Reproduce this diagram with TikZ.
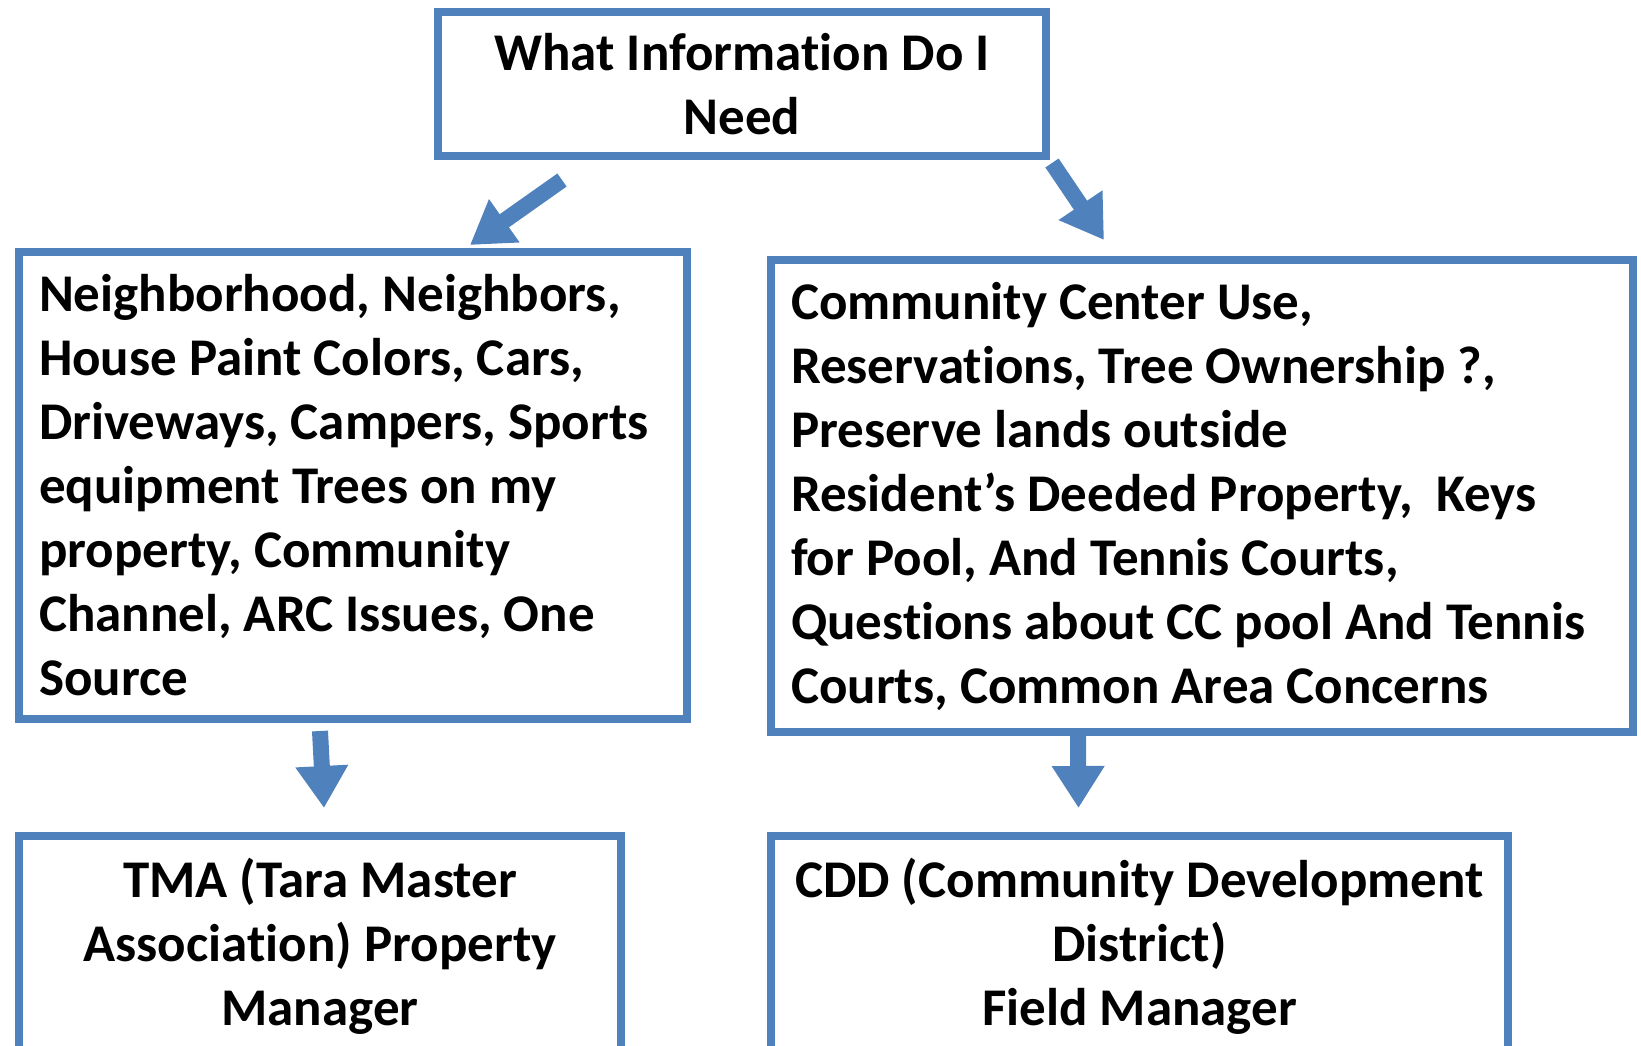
\documentclass[tikz,border=0pt]{standalone}
\usepackage{fontspec}
\setmainfont{Carlito}[RawFeature={-liga;-clig;-calt;-dlig;-rlig}]
\usetikzlibrary{arrows.meta}
\definecolor{boxblue}{RGB}{79,129,189}
\newcommand{\tisplit}{t\kern0pt i}

\begin{document}
\begin{tikzpicture}[x=1pt, y=-1pt, every node/.style={font=\fontsize{53}{64}\selectfont\bfseries}, infobox/.style={draw=boxblue, line width=8pt, rectangle, outer sep=0pt, inner xsep=20pt, inner ysep=0pt, anchor=north west}, bigarrow/.style={draw=boxblue, line width=16pt, -{Triangle[width=50pt,length=42pt]}}]
\useasboundingbox (0,0) rectangle (1641,1045);
\clip (0,0) rectangle (1641,1045);

\node[infobox, minimum width=608pt, minimum height=144pt, align=center] (what) at (438,12) {What Informa\tisplit on Do I\\Need};
\node[infobox, text width=628pt, minimum height=467pt, align=flush left] (hood) at (19,252) {Neighborhood, Neighbors,\\House Paint Colors, Cars,\\Driveways, Campers, Sports\\equipment Trees on my\\property, Community\\Channel, ARC Issues, One\\Source};
\node[infobox, text width=822pt, minimum height=472pt, align=flush left] (center) at (771,260) {Community Center Use,\\Reserva\tisplit ons, Tree Ownership ?,\\Preserve lands outside\\Resident’s Deeded Property,\ \ Keys\\for Pool, And Tennis Courts,\\Ques\tisplit ons about CC pool And Tennis\\Courts, Common Area Concerns};
\node[infobox, minimum width=602pt, minimum height=220pt, align=center] (tma) at (19,836) {TMA (Tara Master\\Associa\tisplit on) Property\\Manager};
\node[infobox, minimum width=737pt, minimum height=220pt, align=center] (cdd) at (771,836) {CDD (Community Development\\District)\\Field Manager};

\draw[bigarrow] ([xshift=-180pt,yshift=-24pt]what.south) -- ([xshift=117pt,yshift=7pt]hood.north);
\draw[bigarrow] ([xshift=6pt,yshift=-7pt]what.south east) -- ([xshift=-98pt,yshift=20pt]center.north);
\draw[bigarrow] ([xshift=-33pt,yshift=-12pt]hood.south) -- ([xshift=4pt,yshift=28pt]tma.north);
\draw[bigarrow] ([xshift=-124pt]center.south) -- ([xshift=-61pt,yshift=28pt]cdd.north);
\end{tikzpicture}
\end{document}
